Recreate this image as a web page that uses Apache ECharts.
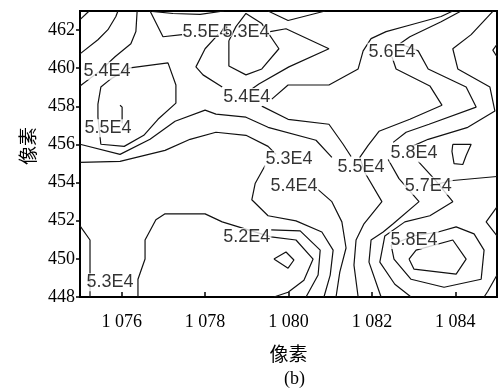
<!DOCTYPE html>
<html><head><meta charset="utf-8">
<script src="https://cdn.jsdelivr.net/npm/echarts@6/dist/echarts.min.js"></script>
<style>html,body{margin:0;padding:0;background:#fff}#c{width:498px;height:390px}</style>
</head><body><div id="c"></div>
<script>
// axis ticks
const xTicks = [1076, 1078, 1080, 1082, 1084];
const xTickLabels = ['1 076', '1 078', '1 080', '1 082', '1 084'];
const yTicks = [448, 450, 452, 454, 456, 458, 460, 462];

// contour lines, points in data units [x, y]
const cTopLeft1 = [[1075.00,462.55],[1075.22,463.00]];
const cTopLeft2 = [[1075.00,460.75],[1075.43,461.49],[1075.67,462.02],[1075.86,462.71],[1075.91,463.00]];
const cTopLeft3 = [[1075.00,459.07],[1075.48,459.86],[1075.84,460.60],[1076.22,461.28],[1076.34,461.92],[1076.37,463.00]];
const cTop4 = [[1076.68,463.00],[1076.99,461.65],[1077.45,461.76]];
const cTop5 = [[1076.73,462.98],[1077.23,462.87],[1077.88,462.82],[1078.45,463.00]];
const cTop6 = [[1078.31,461.76],[1078.00,461.02],[1077.78,460.07],[1077.95,459.65],[1078.41,459.01]];
const cLoopTop = [[1078.57,461.44],[1078.74,462.18],[1078.98,462.87],[1079.36,462.34],[1079.77,461.02],[1079.36,459.96],[1078.98,459.65],[1078.57,460.12],[1078.57,461.44]];
const cRingTop = [[1079.56,461.92],[1079.94,462.07],[1080.97,461.02],[1080.01,460.07],[1079.29,459.17],[1079.12,458.91]];
const cVTop = [[1079.51,463.00],[1079.99,462.50],[1080.88,463.00]];
const cLong10 = [[1079.60,458.38],[1079.99,459.12],[1080.97,459.12],[1081.67,459.96],[1081.79,460.91],[1081.98,461.55],[1082.34,461.92],[1082.94,462.28],[1083.66,462.71],[1083.94,463.00]];
const c56 = [[1084.14,463.00],[1083.66,462.44],[1082.91,461.65],[1082.67,461.28],[1083.11,460.91],[1083.35,459.96],[1084.26,459.01],[1084.50,457.96],[1083.37,457.06],[1082.82,456.64],[1082.51,456.11]];
const c55right = [[1082.48,460.60],[1082.58,459.96],[1083.39,459.07],[1083.68,458.06],[1082.91,457.32],[1082.17,456.69],[1081.91,455.95],[1081.71,455.32],[1081.83,454.53],[1082.24,453.00],[1081.81,451.84],[1081.62,450.99],[1081.57,449.67],[1081.67,448.00]];
const cTopRight = [[1084.90,462.98],[1084.38,461.76],[1083.94,461.02],[1084.06,459.96],[1084.83,459.01],[1084.95,457.75],[1084.30,456.90],[1083.35,456.27],[1082.96,455.90]];
const cNotch = [[1085.00,461.25],[1084.90,460.95],[1085.00,460.60]];
const cQuad = [[1083.94,456.01],[1084.38,456.01],[1084.26,455.42],[1084.18,454.95],[1083.97,455.00],[1083.92,455.64],[1083.94,456.01]];
const cLoopLeft = [[1076.20,460.02],[1077.11,460.28],[1077.30,459.12],[1077.30,458.17],[1076.87,457.32],[1076.53,456.48],[1076.06,455.90],[1075.50,456.01],[1075.46,456.80],[1075.43,457.43],[1075.43,458.12],[1075.50,459.01],[1075.74,459.44],[1076.20,460.02]];
const cHook = [[1075.96,458.06],[1076.01,457.96],[1076.01,457.11]];
const cBandUpper = [[1075.00,456.01],[1075.96,455.48],[1076.68,456.27],[1077.28,457.22],[1078.00,457.80],[1078.26,457.59],[1078.98,457.43],[1079.51,456.90],[1080.66,456.22],[1081.04,455.32]];
const cBandLower = [[1075.00,455.06],[1075.96,455.11],[1077.04,455.69],[1077.64,456.27],[1078.26,456.64],[1078.98,456.48],[1079.51,455.90],[1079.70,455.48]];
const cMid54 = [[1079.36,458.01],[1079.99,457.32],[1080.97,457.06],[1081.31,456.01],[1081.50,455.37]];
const cS53 = [[1079.44,454.90],[1079.20,453.95],[1079.12,453.10],[1079.51,452.26],[1080.18,451.99],[1080.80,451.41],[1081.07,450.46],[1081.00,449.15],[1080.85,448.00]];
const cS54 = [[1080.71,453.63],[1081.04,453.00],[1081.28,451.94],[1081.38,450.57],[1081.23,449.30],[1081.14,448.00]];
const cS52b = [[1079.58,451.52],[1080.28,451.47],[1080.76,450.46],[1080.71,449.15],[1080.42,448.00]];
const c52 = [[1076.39,448.00],[1076.39,448.93],[1076.56,449.99],[1076.56,450.99],[1076.82,452.05],[1077.04,452.36],[1078.00,452.36],[1078.41,451.94],[1079.58,451.15],[1080.18,450.99],[1080.59,449.99],[1080.37,448.88],[1079.99,448.25],[1079.65,448.00]];
const cDiamond = [[1079.65,449.99],[1079.94,450.36],[1080.13,449.94],[1079.99,449.51],[1079.65,449.99]];
const c53left = [[1075.00,451.73],[1075.24,450.99],[1075.24,448.00]];
const cZig2 = [[1082.39,455.21],[1082.65,454.21],[1083.13,453.00],[1082.51,451.84],[1082.27,451.41],[1081.98,450.99],[1081.93,449.83],[1082.22,448.00]];
const cZig3 = [[1083.11,455.11],[1083.51,454.16],[1083.94,453.00],[1083.39,452.26],[1082.79,451.94],[1082.31,451.20],[1082.19,449.83],[1082.55,448.67],[1082.94,448.00]];
const c57 = [[1083.39,453.84],[1083.94,454.11],[1085.00,454.32]];
const cPeakInner = [[1082.89,449.99],[1083.06,450.46],[1083.94,450.99],[1084.26,449.99],[1084.02,449.20],[1083.01,449.46],[1082.89,449.99]];
const cPeakOuter = [[1082.46,450.73],[1082.53,449.99],[1082.94,448.93],[1083.73,448.51],[1084.62,448.93],[1084.69,450.46],[1084.45,451.31],[1084.02,451.68],[1083.59,451.41],[1082.99,451.20],[1082.46,450.73]];
const cEdge1 = [[1085.00,452.73],[1084.74,451.94],[1085.00,451.20]];
const cEdge2 = [[1085.00,449.15],[1084.78,448.30],[1084.69,448.00]];

const contours = [cTopLeft1, cTopLeft2, cTopLeft3, cTop4, cTop5, cTop6, cLoopTop, cRingTop, cVTop,
  cLong10, c56, c55right, cTopRight, cNotch, cQuad, cLoopLeft, cHook, cBandUpper, cBandLower,
  cMid54, cS53, cS54, cS52b, c52, cDiamond, c53left, cZig2, cZig3, c57, cPeakInner, cPeakOuter, cEdge1, cEdge2];

// contour labels
const labelTexts = ['5.4E4','5.5E4','5.4E4','5.6E4','5.3E4','5.5E4','5.4E4','5.8E4','5.7E4','5.2E4','5.8E4','5.3E4'];
const labelX = [1075.65,1075.67,1079.00,1082.48,1080.01,1081.74,1080.13,1083.01,1083.35,1079.00,1083.01,1075.72];
const labelY = [459.86,456.85,458.49,460.86,455.21,454.84,453.84,455.53,453.84,451.15,450.99,448.78];
// overlapping pair at the top
const topLabelTexts = ['5.5E4','5.3E4'];
const topLabelX = [1078.02,1078.98];
const topLabelY = [461.92,461.92];

const serif = 'Liberation Serif';
const series = contours.map(c => ({
  type: 'line', data: c, symbol: 'none', silent: true, animation: false,
  lineStyle: {color: '#111', width: 1.2}, z: 2
}));
series.push({
  type: 'scatter', symbolSize: 0, silent: true, animation: false, z: 5,
  data: labelTexts.map((t, i) => ({name: t, value: [labelX[i], labelY[i]]})),
  label: {show: true, position: 'inside', formatter: p => p.name, color: '#000',
    fontFamily: 'Liberation Sans', fontSize: 18, backgroundColor: '#fff', padding: [0, 1]}
});
series.push({
  type: 'scatter', symbolSize: 0, silent: true, animation: false, z: 6,
  data: topLabelTexts.map((t, i) => ({name: t, value: [topLabelX[i], topLabelY[i]]})),
  label: {show: true, position: 'inside', formatter: p => p.name, color: '#000',
    fontFamily: 'Liberation Sans', fontSize: 18, textBorderColor: '#fff', textBorderWidth: 2}
});

const chart = echarts.init(document.getElementById('c'), null, {renderer: 'canvas'});
chart.setOption({
  backgroundColor: '#fff',
  animation: false,
  title: {text: '(b)', left: 279, top: 365, textStyle: {fontFamily: serif, fontSize: 18, fontWeight: 'normal', color: '#000'}},
  grid: {left: 80, top: 11, width: 417, height: 286, containLabel: false, show: true, borderColor: '#000', borderWidth: 2},
  xAxis: {
    type: 'value', min: 1075, max: 1085,
    name: '像素', nameLocation: 'middle', nameGap: 47,
    nameTextStyle: {fontFamily: 'Noto Sans CJK SC', fontSize: 19, color: '#000'},
    axisLine: {show: true, lineStyle: {color: '#000', width: 2}},
    axisTick: {show: true, inside: true, length: 5, lineStyle: {color: '#000', width: 1.5}, customValues: xTicks},
    axisLabel: {show: true, margin: 16, color: '#000', fontFamily: serif, fontSize: 18, customValues: xTicks,
      formatter: v => xTickLabels[xTicks.indexOf(v)] || ''},
    splitLine: {show: false}
  },
  yAxis: {
    type: 'value', min: 448, max: 463,
    name: '像素', nameLocation: 'middle', nameGap: 38,
    nameTextStyle: {fontFamily: 'Noto Sans CJK SC', fontSize: 19, color: '#000', padding: [0, 0, 0, 16]},
    axisLine: {show: true, lineStyle: {color: '#000', width: 2}},
    axisTick: {show: true, inside: false, length: 4, lineStyle: {color: '#000', width: 1.5}, customValues: yTicks},
    axisLabel: {show: true, margin: 5, color: '#000', fontFamily: serif, fontSize: 18, customValues: yTicks},
    splitLine: {show: false}
  },
  series: series
});
</script></body></html>
